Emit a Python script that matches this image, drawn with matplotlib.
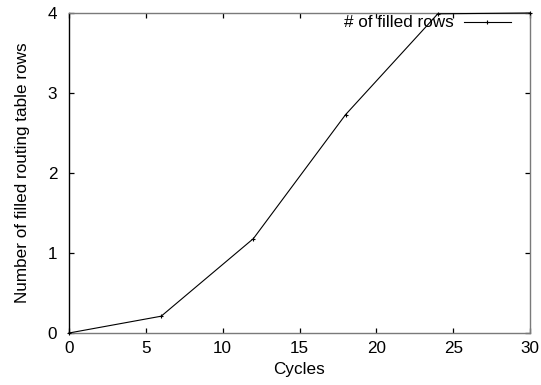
import matplotlib
matplotlib.use("Agg")
import matplotlib.pyplot as plt

cycles = [0, 6, 12, 18, 24, 30]
filled_rows = [0, 0.21, 1.18, 2.73, 3.99, 4.0]
x_ticks = [0, 5, 10, 15, 20, 25, 30]
y_ticks = [0, 1, 2, 3, 4]

plt.rcParams['font.family'] = ['Liberation Sans', 'DejaVu Sans']
plt.rcParams['font.size'] = 12.3

fig = plt.figure(figsize=(5.41, 3.85), dpi=100)
ax = fig.add_axes([69/541, 52/385, 461/541, 320/385])
ax.plot(cycles, filled_rows, color='black', linewidth=0.8, marker='+',
        markersize=3.5, markeredgewidth=0.8, label='# of filled rows',
        clip_on=False, zorder=3)
ax.set_xlim(0, 30)
ax.set_ylim(0, 4)
ax.set_xticks(x_ticks)
ax.set_yticks(y_ticks)
ax.tick_params(direction='in', length=3.6, width=0.9, top=True, right=True,
               colors='black')
ax.tick_params(axis='x', pad=6)
ax.tick_params(axis='y', pad=8.5)
for name, s in ax.spines.items():
    s.set_color('black' if name == 'left' else '#7a7a7a')
    s.set_linewidth(1.0)
ax.set_xlabel('Cycles', labelpad=4)
ax.set_ylabel('Number of filled routing table rows', labelpad=13)
ax.legend(loc='center right', frameon=False, markerfirst=False, handlelength=2.76,
          handletextpad=0.59, borderaxespad=0, borderpad=0,
          bbox_to_anchor=(442/461, 310/320))
fig.savefig('out.png', dpi=100)
